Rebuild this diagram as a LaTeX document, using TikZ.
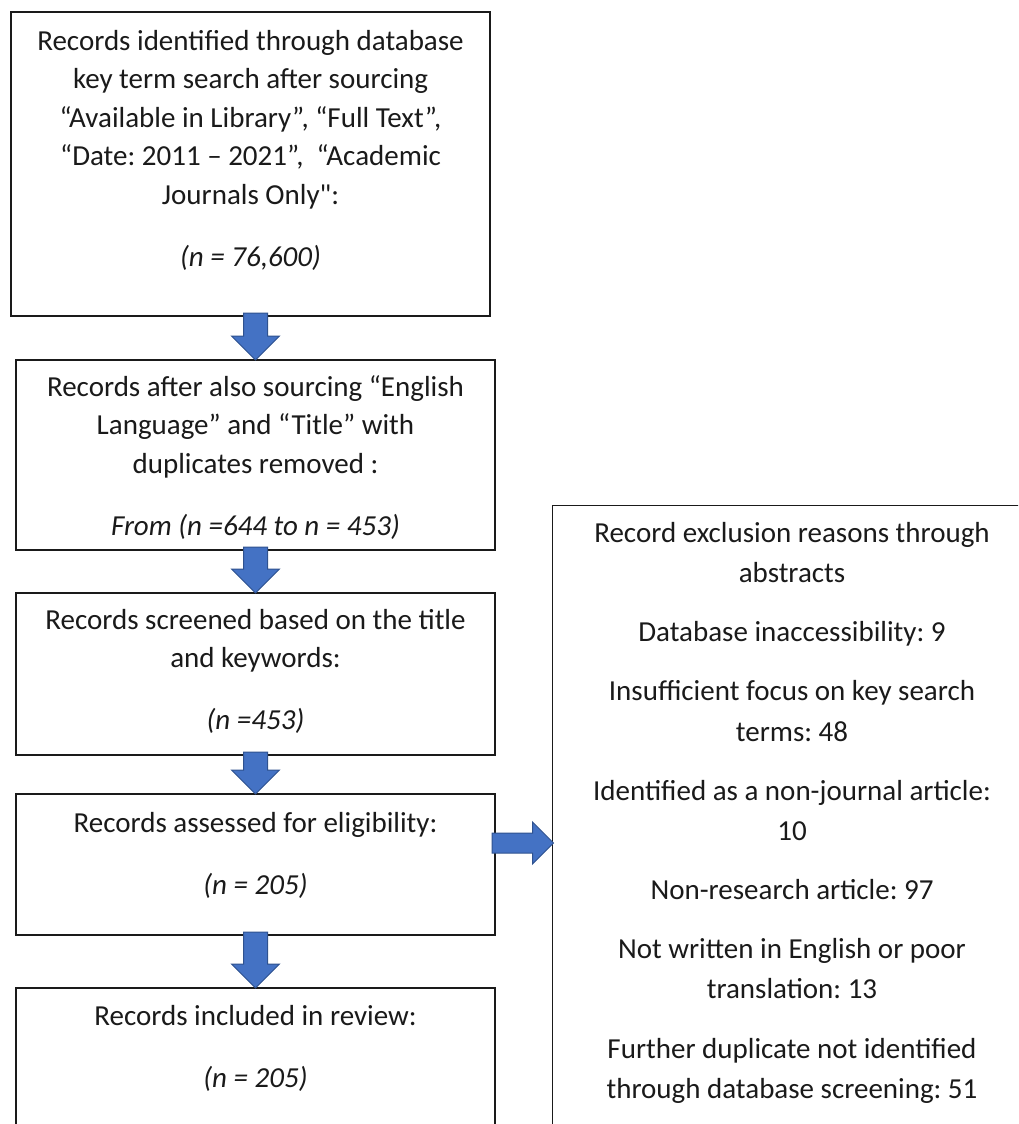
\documentclass[tikz,border=0pt]{standalone}
\usepackage{fontspec}
\setmainfont{Carlito}[Ligatures=TeXOff]
\usetikzlibrary{calc}
\frenchspacing

\definecolor{arrowfill}{HTML}{4472C4}
\definecolor{arrowedge}{HTML}{2F528F}
\definecolor{ink}{HTML}{1A1A1A}

\tikzset{
  box/.style={draw=ink, line width=1.2pt, rectangle, inner sep=0pt, outer sep=0pt, anchor=north west},
  boxtext/.style={anchor=north, align=center, inner sep=0pt, text=ink,
    font=\fontsize{29}{38.5}\selectfont},
  sidetext/.style={boxtext, font=\fontsize{29}{40.3}\selectfont},
  blockarrow/.style={fill=arrowfill, draw=arrowedge, line width=1pt, line join=miter},
}

% block arrow pointing down from the bottom of #1 to the top of #2
\newcommand\blockdown[2]{%
  \filldraw[blockarrow] let \p1=(#1.south), \p2=(#2.north) in
    (\x2-12pt,\y1+3pt) -- (\x2+12pt,\y1+3pt) -- (\x2+12pt,\y2+24pt)
    -- (\x2+24pt,\y2+24pt) -- (\x2,\y2) -- (\x2-24pt,\y2+24pt)
    -- (\x2-12pt,\y2+24pt) -- cycle;}

% block arrow pointing right from the side of #1 to the side of #2
\newcommand\blockright[2]{%
  \filldraw[blockarrow] let \p1=(#1.east), \p2=(#2.west) in
    (\x1-3pt,\y1+31.5pt) -- (\x2-20pt,\y1+31.5pt) -- (\x2-20pt,\y1+42.5pt)
    -- (\x2+1pt,\y1+21.5pt) -- (\x2-20pt,\y1+0.5pt) -- (\x2-20pt,\y1+11.5pt)
    -- (\x1-3pt,\y1+11.5pt) -- cycle;}

\begin{document}
\begin{tikzpicture}[x=1pt, y=-1pt]
  \useasboundingbox (0,0) rectangle (1018,1124);
  \clip (0,0) rectangle (1018,1124);
  \fill[white] (0,0) rectangle (1018,1124);

  % frames
  \node[box, minimum width=479pt, minimum height=304pt] (b1) at (11,12) {};
  \node[box, minimum width=479pt, minimum height=190pt] (b2) at (16,360) {};
  \node[box, minimum width=479pt, minimum height=162pt] (b3) at (16,593) {};
  \node[box, minimum width=479pt, minimum height=141pt] (b4) at (16,794) {};
  \node[box, minimum width=479pt, minimum height=160pt] (b5) at (16,988) {};
  \node[box, minimum width=480pt, minimum height=640pt] (b6) at (552.5,505.5) {};

  % texts
  \node[boxtext] (t1) at (250.5,23) {\strut Records identified through database\\
    key term search after sourcing\\
    “Available in Library”, “Full Text”,\\
    “Date: 2011 – 2021”,~ “Academic\\
    Journals Only":\\[23.5pt]
    \textit{(n = 76,600)}};
  \node[boxtext] (t2) at (255.5,369) {\strut Records after also sourcing “English\\
    Language” and “Title” with\\
    duplicates removed :\\[23.5pt]
    \textit{From (n =644 to n = 453)}};
  \node[boxtext] (t3) at (255.5,602) {\strut Records screened based on the title\\
    and keywords:\\[23.5pt]
    \textit{(n =453)}};
  \node[boxtext] (t4) at (255.5,805) {\strut Records assessed for eligibility:\\[23.5pt]
    \textit{(n = 205)}};
  \node[boxtext] (t5) at (255.5,998) {\strut Records included in review:\\[23.5pt]
    \textit{(n = 205)}};
  \node[sidetext] (t6) at (792,513.8) {\strut Record exclusion reasons through\\
    abstracts\\[18.8pt]
    Database inaccessibility: 9\\[18.8pt]
    Insufficient focus on key search\\
    terms: 48\\[18.8pt]
    Identified as a non-journal article:\\
    10\\[18.8pt]
    Non-research article: 97\\[18.8pt]
    Not written in English or poor\\
    translation: 13\\[18.8pt]
    Further duplicate not identified\\
    through database screening: 51};

  % connectors
  \blockdown{b1}{b2}
  \blockdown{b2}{b3}
  \blockdown{b3}{b4}
  \blockdown{b4}{b5}
  \blockright{b4}{b6}
\end{tikzpicture}
\end{document}
